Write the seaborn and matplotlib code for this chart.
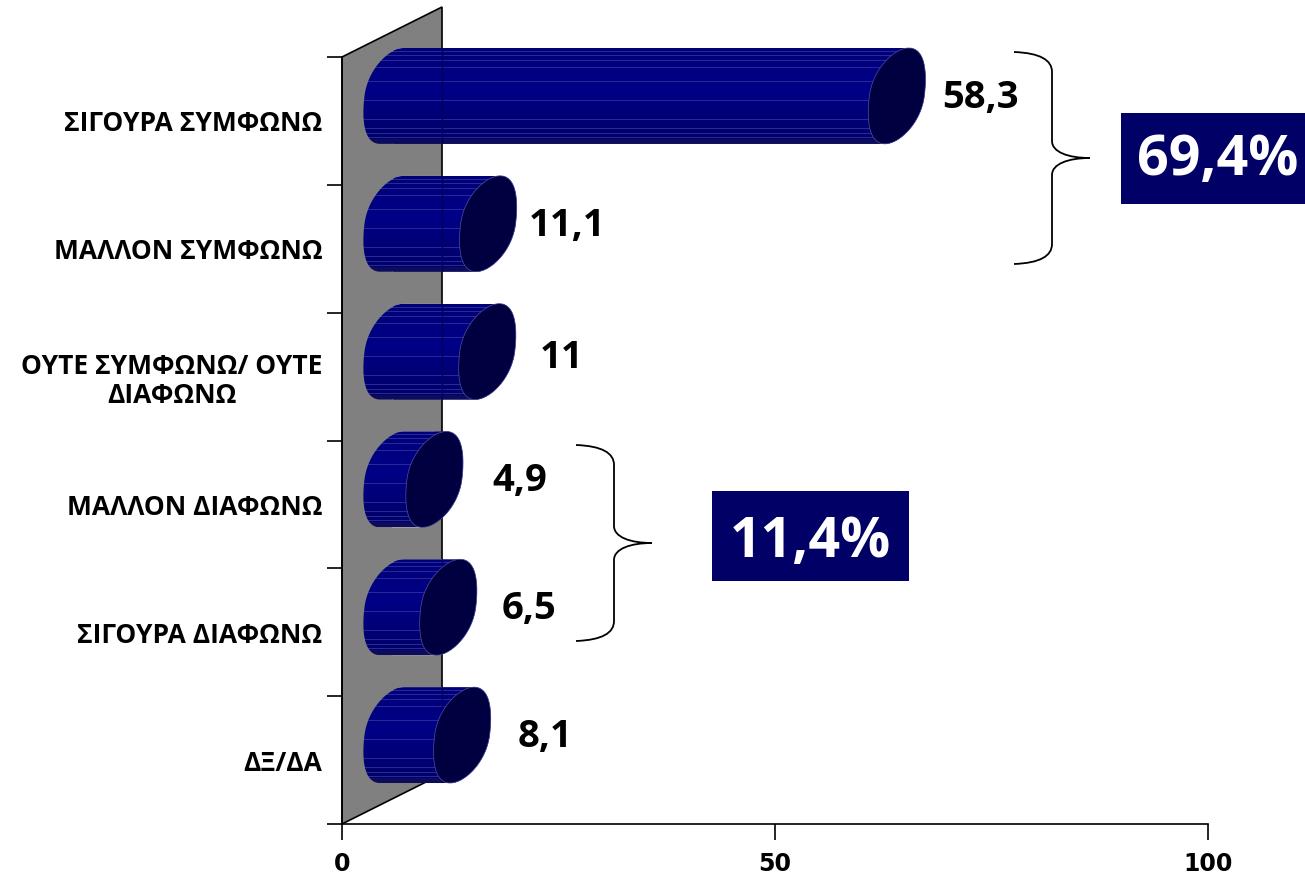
import numpy as np
import matplotlib
matplotlib.use('Agg')
import matplotlib.pyplot as plt
import seaborn as sns
from matplotlib.patches import Polygon, Rectangle, PathPatch
from matplotlib.path import Path
from matplotlib.transforms import Affine2D

categories = ['ΣΙΓΟΥΡΑ ΣΥΜΦΩΝΩ', 'ΜΑΛΛΟΝ ΣΥΜΦΩΝΩ', 'ΟΥΤΕ ΣΥΜΦΩΝΩ/ ΟΥΤΕ\nΔΙΑΦΩΝΩ',
              'ΜΑΛΛΟΝ ΔΙΑΦΩΝΩ', 'ΣΙΓΟΥΡΑ ΔΙΑΦΩΝΩ', 'ΔΞ/ΔΑ']
values = [58.3, 11.1, 11, 4.9, 6.5, 8.1]
value_labels = ['58,3', '11,1', '11', '4,9', '6,5', '8,1']
x_ticks = [0, 50, 100]

NAVY = '#000080'
CAP = '#000040'
BOX = '#000066'

sns.set_theme(style='white')
plt.rcParams['font.family'] = ['Open Sans', 'DejaVu Sans']

W, H = 1305, 876
fig = plt.figure(figsize=(W / 100, H / 100), dpi=100)
ax = fig.add_axes([342 / W, (H - 824) / H, 866 / W, 767 / H])

sns.barplot(x=values, y=categories, color=NAVY, saturation=1, width=0.75, orient='h', ax=ax)
ax.set_xlim(0, 100)
ax.set_ylim(5.5, -0.5)

# data units per pixel, the 3d look is all built from these
px_x = 100 / 866
px_y = 6 / 767
dx = 50 * px_x
dy = 25 * px_y
depth_x = 2 * dx
depth_y = 2 * dy

# back wall
wall = Polygon([(0, -0.5), (depth_x, -0.5 - depth_y), (depth_x, 5.5 - depth_y), (0, 5.5)],
               closed=True, facecolor='#808080', edgecolor='black', linewidth=1.2,
               clip_on=False, zorder=1)
ax.add_patch(wall)

# shading of the cylinder body, darker to the bottom with a few light lines
n_rows = 96
shade = np.zeros((n_rows, 1, 3))
shade[:, 0, 2] = np.concatenate([np.linspace(0.47, 0.53, 40), np.linspace(0.53, 0.40, 56)])
for r in [3, 7, 12, 19, 33, 52, 71, 80, 85, 89]:
    shade[r, 0] = [0.16, 0.16, 0.60]
shade[-5:, 0] = [0.05, 0.05, 0.36]


def ellipse(cx, cy, half_h, t):
    # bar end, a leaning ellipse
    a = 27.5 * px_x
    s = 12 * px_x
    n = 0.5 * np.sin(t) + 0.5 * np.sign(np.sin(t)) * np.sin(t) ** 2
    return np.column_stack([cx + a * np.cos(t) + s * n, cy - half_h * np.sin(t)])


for bar, val in zip(ax.patches, values):
    y0 = bar.get_y() - dy
    h = bar.get_height()
    cy = y0 + h / 2
    bar.set_x(dx)
    bar.set_y(y0)
    bar.set_zorder(2)

    # body: left half of the near ellipse, then along to the far end
    left = ellipse(dx, cy, h / 2, np.linspace(np.pi / 2, 3 * np.pi / 2, 60))
    right = ellipse(val + dx, cy, h / 2, np.linspace(3 * np.pi / 2, 5 * np.pi / 2, 60))
    body = Polygon(np.vstack([left, right]), closed=True, facecolor='none', edgecolor='none',
                   clip_on=False)
    ax.add_patch(body)
    bar.set_clip_box(fig.bbox)
    bar.set_clip_path(body)

    im = ax.imshow(shade, aspect='auto', interpolation='nearest', zorder=3,
                   extent=(0, val + 2 * dx + 3, y0 + h, y0))
    im.set_clip_box(fig.bbox)
    im.set_clip_path(body)

    # wall edge shows through the bar
    edge = ax.plot([depth_x, depth_x], [y0, y0 + h], color='#000060', lw=1, zorder=4)[0]
    edge.set_clip_box(fig.bbox)
    edge.set_clip_path(body)

    cap = Polygon(ellipse(val + dx, cy, h / 2, np.linspace(0, 2 * np.pi, 120)), closed=True,
                  facecolor=CAP, edgecolor='#5050a0', linewidth=0.5, zorder=5, clip_on=False)
    ax.add_patch(cap)

ax.set_xlim(0, 100)
ax.set_ylim(5.5, -0.5)

# axes and ticks
sns.despine(ax=ax, top=True, right=True)
for side in ['left', 'bottom']:
    ax.spines[side].set_color('black')
    ax.spines[side].set_linewidth(1.2)
    ax.spines[side].set_zorder(6)

ax.set_xticks(x_ticks)
# Open Sans has a deep descent and would run off the bottom edge here
ax.set_xticklabels([str(t) for t in x_ticks], fontsize=17, fontweight='bold', color='black',
                   family='DejaVu Sans')
ax.tick_params(axis='x', length=11.5, width=1.2, color='black', pad=9, bottom=True)
ax.set_yticks(range(len(categories)))
ax.set_yticklabels(categories, fontsize=19, fontweight='bold', color='black',
                   multialignment='center', linespacing=1.12)
ax.tick_params(axis='y', which='major', length=0, pad=14)
ax.set_yticks(np.arange(-0.5, 6, 1), minor=True)
ax.tick_params(axis='y', which='minor', left=True, length=11, width=1.2, color='black')
ax.set_xlabel('')
ax.set_ylabel('')
ax.grid(False)
ax.patch.set_alpha(0)

# everything below is placed in picture pixels
px = Affine2D().scale(1, -1).translate(0, H)

value_pos = [(981, 98), (567, 226), (562, 358), (520, 481), (529, 609), (545, 737)]
for lab, (tx, ty) in zip(value_labels, value_pos):
    fig.text(tx, ty, lab, transform=px, ha='center', va='center', fontsize=27.5,
             fontweight='bold', color='black')


def brace(x_back, x_mid, x_tip, y_top, y_bot):
    y_tip = (y_top + y_bot) / 2
    verts = [(x_back, y_top), (x_back + 26, y_top + 1), (x_mid, y_top + 8), (x_mid, y_top + 20),
             (x_mid, y_tip - 17), (x_mid, y_tip - 6), (x_mid + 16, y_tip), (x_tip, y_tip),
             (x_mid + 16, y_tip), (x_mid, y_tip + 6), (x_mid, y_tip + 17),
             (x_mid, y_bot - 20), (x_mid, y_bot - 8), (x_back + 26, y_bot - 1), (x_back, y_bot)]
    codes = [Path.MOVETO, Path.CURVE4, Path.CURVE4, Path.CURVE4,
             Path.LINETO, Path.CURVE4, Path.CURVE4, Path.CURVE4,
             Path.CURVE4, Path.CURVE4, Path.CURVE4,
             Path.LINETO, Path.CURVE4, Path.CURVE4, Path.CURVE4]
    fig.add_artist(PathPatch(Path(verts, codes), transform=px, facecolor='none',
                             edgecolor='black', linewidth=1.3))


brace(1014, 1052, 1090, 52, 264)
brace(576, 614, 652, 445, 641)

for (x0, y0, x1, y1, txt, tx, ty) in [(1121, 113, 1305, 204, '69,4%', 1218, 161),
                                      (712, 491, 909, 581, '11,4%', 810, 542)]:
    fig.add_artist(Rectangle((x0, y0), x1 - x0, y1 - y0, transform=px, facecolor=BOX, edgecolor='none'))
    fig.text(tx, ty, txt, transform=px, ha='center', va='center',
             fontsize=40, fontweight='bold', color='white')

fig.savefig('out.png', dpi=100)
